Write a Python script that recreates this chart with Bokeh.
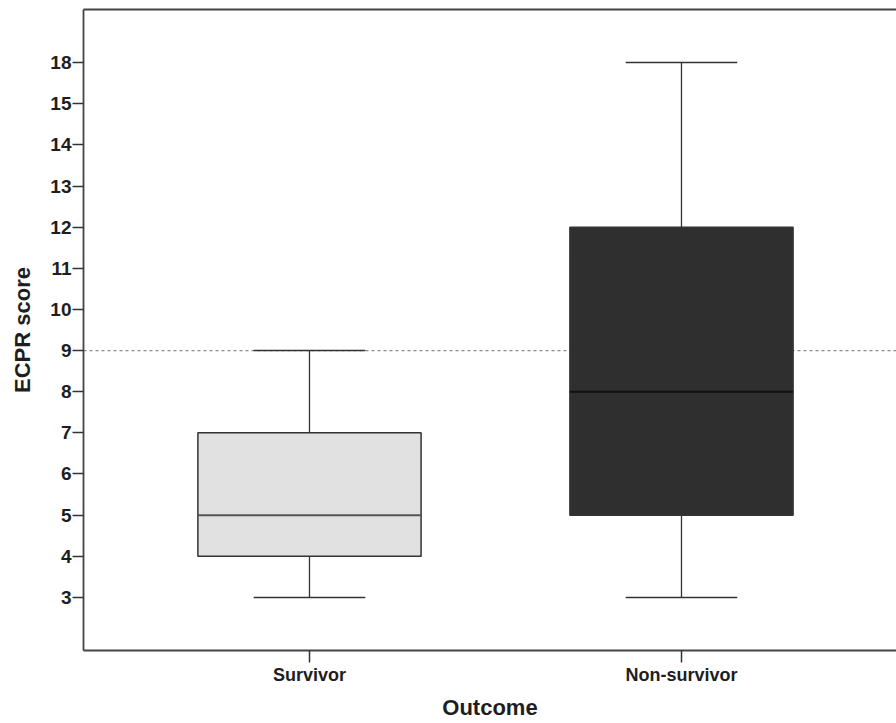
from bokeh.plotting import figure
from bokeh.models import FixedTicker, Span, ColumnDataSource, LinearAxis
from bokeh.embed import file_html
from bokeh.resources import INLINE

# ordinal score levels shown on the y axis
levels = [3, 4, 5, 6, 7, 8, 9, 10, 11, 12, 13, 14, 15, 18]
groups = ["Survivor", "Non-survivor"]
whisker_low = [3, 3]
q1 = [4, 5]
median = [5, 8]
q3 = [7, 12]
whisker_high = [9, 18]
cutoff = 9
fills = ["#e1e1e1", "#2f2f2f"]
median_colors = ["#555555", "#111111"]

pos = {v: i for i, v in enumerate(levels)}
xs = [i + 1 for i in range(len(groups))]
box_w = 0.6
cap_w = 0.3

src = ColumnDataSource(dict(
    x=xs,
    lo=[pos[v] for v in whisker_low],
    q1=[pos[v] for v in q1],
    med=[pos[v] for v in median],
    q3=[pos[v] for v in q3],
    hi=[pos[v] for v in whisker_high],
    left=[x - box_w / 2 for x in xs],
    right=[x + box_w / 2 for x in xs],
    cl=[x - cap_w / 2 for x in xs],
    cr=[x + cap_w / 2 for x in xs],
    fill=fills,
    mc=median_colors,
))

p = figure(width=896, height=723, output_backend="svg", toolbar_location=None,
           x_range=(0.3925, 2.578), y_range=(-1.29, len(levels) - 1 + 1.29),
           min_border_left=83, min_border_right=0, min_border_top=9, min_border_bottom=73)
p.xgrid.visible = False
p.ygrid.visible = False
p.outline_line_color = None
p.background_fill_color = "white"

line_col = "#333333"
frame_col = "#444444"

bottom_ax = p.below[0]
left_ax = p.left[0]

# top border of the frame (right side is cut off in the reference)
top = LinearAxis(ticker=FixedTicker(ticks=[]), axis_line_color=frame_col, axis_line_width=1.8,
                 major_tick_line_color=None, minor_tick_line_color=None,
                 major_label_text_font_size="0px")
p.add_layout(top, "above")

p.add_layout(Span(location=pos[cutoff], dimension="width", line_color="#8a8a8a",
                  line_dash="3 3", line_width=1.2, level="underlay"))

# whiskers
p.segment(x0="x", x1="x", y0="lo", y1="q1", source=src, line_color=line_col, line_width=1.3)
p.segment(x0="x", x1="x", y0="q3", y1="hi", source=src, line_color=line_col, line_width=1.3)
# caps
p.segment(x0="cl", x1="cr", y0="lo", y1="lo", source=src, line_color=line_col, line_width=1.5)
p.segment(x0="cl", x1="cr", y0="hi", y1="hi", source=src, line_color=line_col, line_width=1.5)
# boxes
p.quad(left="left", right="right", bottom="q1", top="q3", source=src,
       fill_color="fill", line_color=line_col, line_width=1.5)
# medians
p.segment(x0="left", x1="right", y0="med", y1="med", source=src, line_color="mc", line_width=2)

font = "Liberation Sans"

left_ax.ticker = FixedTicker(ticks=list(range(len(levels))))
left_ax.major_label_overrides = {i: str(v) for i, v in enumerate(levels)}
bottom_ax.ticker = FixedTicker(ticks=xs)
bottom_ax.major_label_overrides = {x: g for x, g in zip(xs, groups)}

for ax in (bottom_ax, left_ax):
    ax.minor_tick_line_color = None
    ax.major_tick_in = 0
    ax.major_tick_line_color = line_col
    ax.major_tick_line_width = 1.5
    ax.axis_line_color = frame_col
    ax.axis_line_width = 1.8
    ax.major_label_text_font = font
    ax.major_label_text_font_style = "bold"
    ax.major_label_text_color = "#1e1e1e"
    ax.axis_label_text_font = font
    ax.axis_label_text_font_style = "bold"
    ax.axis_label_text_color = "#1e1e1e"

left_ax.major_tick_out = 11
bottom_ax.major_tick_out = 12
left_ax.major_label_text_font_size = "19px"
bottom_ax.major_label_text_font_size = "18px"
left_ax.major_label_standoff = 1
bottom_ax.major_label_standoff = 2
left_ax.axis_label = "ECPR score"
bottom_ax.axis_label = "Outcome"
left_ax.axis_label_text_font_size = "22px"
bottom_ax.axis_label_text_font_size = "22px"
left_ax.axis_label_standoff = 12
bottom_ax.axis_label_standoff = 7

open("out.html", "w").write(file_html(p, INLINE))
